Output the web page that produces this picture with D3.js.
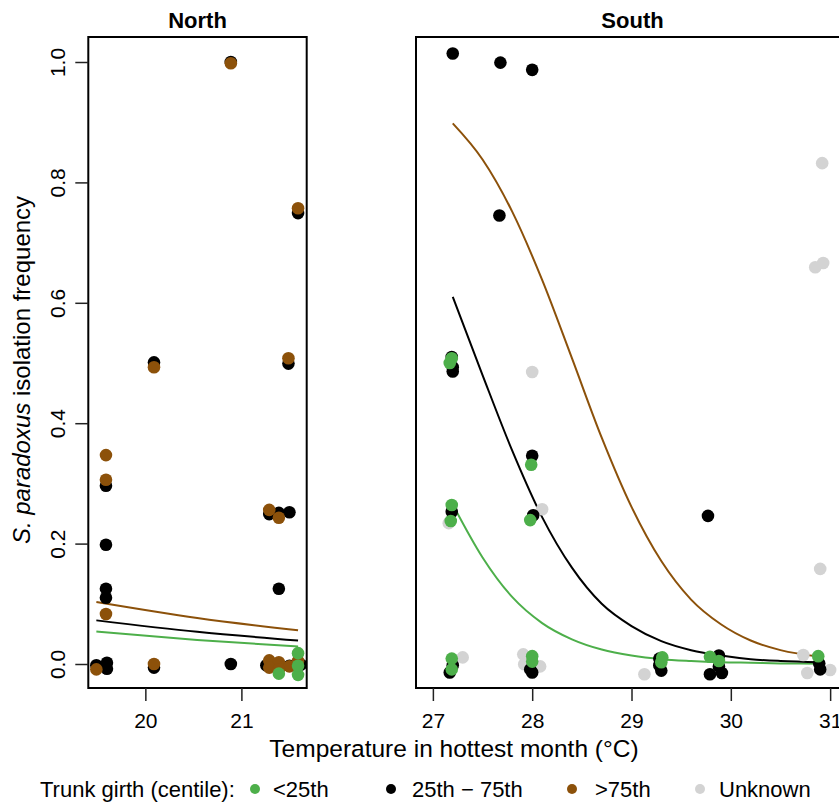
<!DOCTYPE html>
<html>
<head>
<meta charset="utf-8">
<script src="https://cdn.jsdelivr.net/npm/d3@7"></script>
<style>
  body { margin: 0; background: #fff; }
  svg { display: block; font-family: "Liberation Sans", Arial, Helvetica, sans-serif; }
</style>
</head>
<body>
<div id="corpo"></div>
<script>
// ---- data ----
var groups = ["<25th", "25th \u2212 75th", ">75th", "Unknown"];
var groupColors = ["#4daf4a", "#000000", "#8c510a", "#d3d3d3"];

// North: [temperature, isolation frequency]
var northLow = [[21.59,0.018],[21.59,-0.018],[21.39,-0.016],[21.59,-0.003]];
var northMid = [[20.89,1.0],[21.59,0.749],[20.09,0.501],[21.49,0.499],[19.59,0.296],[19.59,0.198],
  [19.59,0.125],[19.59,0.11],[19.60,0.002],[19.49,-0.002],[19.60,-0.008],[20.09,-0.006],[20.89,0.0],
  [21.29,0.249],[21.39,0.251],[21.50,0.252],[21.39,0.125],[21.26,-0.002],[21.50,-0.003],[21.62,-0.001]];
var northHigh = [[20.89,0.998],[21.59,0.757],[20.09,0.493],[21.49,0.508],[19.59,0.347],[19.59,0.306],
  [19.59,0.083],[19.49,-0.009],[20.09,0.0],[21.29,0.256],[21.39,0.243],[21.29,0.006],[21.39,0.003],
  [21.50,-0.004],[21.59,0.005],[21.29,-0.006],[21.39,-0.009]];
var northUnknown = [];

// South
var southLow = [[27.19,0.508],[27.17,0.50],[27.99,0.331],[27.19,0.264],[27.18,0.2375],[27.98,0.239],
  [27.19,0.009],[27.19,-0.009],[28.00,0.013],[28.00,0.004],[29.31,0.011],[29.30,0.003],[29.79,0.012],
  [29.88,0.005],[30.88,0.013]];
var southMid = [[27.20,1.014],[27.68,0.999],[28.00,0.987],[27.67,0.745],[27.19,0.51],[27.20,0.493],
  [27.20,0.486],[28.00,0.346],[27.19,0.253],[28.01,0.247],[29.77,0.246],[27.17,-0.014],[27.20,-0.002],
  [27.98,-0.009],[28.00,-0.014],[29.28,0.009],[29.28,-0.002],[29.30,-0.011],[29.88,0.014],[29.79,-0.017],
  [29.91,-0.015],[29.88,-0.004],[30.89,0.001],[30.90,-0.009]];
var southHigh = [];
var southUnknown = [[30.92,0.832],[30.93,0.666],[30.85,0.659],[28.00,0.485],[27.16,0.234],[28.10,0.257],
  [30.90,0.158],[27.30,0.011],[27.91,0.016],[27.92,-0.0005],[28.08,-0.004],[29.13,-0.017],[30.73,0.015],
  [30.77,-0.015],[31.00,-0.01]];

// fitted curves (read at these temperatures)
var northFitTemp = [19.49, 20.54, 21.59];
var northFitLow  = [0.054, 0.040, 0.029];
var northFitMid  = [0.0725, 0.0535, 0.039];
var northFitHigh = [0.103, 0.0765, 0.056];

var southFitTemp = [27.2, 27.5, 27.8, 28.1, 28.4, 28.7, 29.0, 29.3, 29.6, 29.9, 30.2, 30.5, 30.9];
var southFitLow  = [0.265, 0.177, 0.111, 0.068, 0.041, 0.024, 0.014, 0.008, 0.005, 0.003, 0.002, 0.001, 0.0005];
var southFitMid  = [0.61, 0.48, 0.354, 0.244, 0.16, 0.10, 0.063, 0.038, 0.023, 0.014, 0.008, 0.005, 0.003];
var southFitHigh = [0.898, 0.838, 0.751, 0.638, 0.508, 0.376, 0.261, 0.171, 0.107, 0.066, 0.039, 0.023, 0.012];

var northTicks = [20, 21];
var southTicks = [27, 28, 29, 30, 31];
var yTicks = [0, 0.2, 0.4, 0.6, 0.8, 1.0];

// ---- layout ----
var width = 839, height = 803;
var plotTop = 37, plotBottom = 688;
var svg = d3.select("#corpo").append("svg").attr("width", width).attr("height", height);

var y = d3.scaleLinear().domain([0, 1]).range([664, 62]);
var xN = d3.scaleLinear().domain([19.406, 21.68]).range([88.3, 306.7]);
var xS = d3.scaleLinear().domain([26.83, 31.19]).range([416, 849]);

function panel(id, title, x, ticks, pts, fitT, fits) {
  var x0 = x.range()[0], x1 = x.range()[1];
  var g = svg.append("g").attr("class", "panel-" + id);

  g.append("clipPath").attr("id", "clip-" + id)
    .append("rect").attr("x", x0).attr("y", plotTop).attr("width", x1 - x0).attr("height", plotBottom - plotTop);

  var inner = g.append("g").attr("clip-path", "url(#clip-" + id + ")");

  // fitted lines: low, mid, high
  var line = d3.line()
    .x(function(d) { return x(d[0]); })
    .y(function(d) { return y(d[1]); })
    .curve(d3.curveMonotoneX);
  fits.forEach(function(f, i) {
    inner.append("path")
      .datum(fitT.map(function(t, j) { return [t, f[j]]; }))
      .attr("d", line)
      .attr("fill", "none")
      .attr("stroke", groupColors[i])
      .attr("stroke-width", 2);
  });

  // points: unknown, mid, high, low (drawing order)
  [3, 1, 2, 0].forEach(function(gi) {
    inner.selectAll(null)
      .data(pts[gi]).enter().append("circle")
      .attr("cx", function(d) { return x(d[0]); })
      .attr("cy", function(d) { return y(d[1]); })
      .attr("r", 6.3)
      .attr("fill", groupColors[gi]);
  });

  // frame
  g.append("rect")
    .attr("x", x0).attr("y", plotTop).attr("width", x1 - x0).attr("height", plotBottom - plotTop)
    .attr("fill", "none").attr("stroke", "#000").attr("stroke-width", 2);

  // x axis
  var ax = g.append("g")
    .attr("transform", "translate(0," + plotBottom + ")")
    .call(d3.axisBottom(x).tickValues(ticks).tickSize(13).tickPadding(12).tickFormat(d3.format("d")));
  ax.select(".domain").remove();
  ax.selectAll("line").attr("stroke", "#222").attr("stroke-width", 1.5);
  ax.selectAll("text").attr("font-size", 21).attr("fill", "#000")
    .style("font-family", "'Liberation Sans', Arial, sans-serif");

  // title
  g.append("text")
    .attr("x", (x0 + x1) / 2).attr("y", 28)
    .attr("text-anchor", "middle")
    .attr("font-size", 22).attr("font-weight", "bold")
    .text(title);
}

panel("north", "North", xN, northTicks,
  [northLow, northMid, northHigh, northUnknown], northFitTemp, [northFitLow, northFitMid, northFitHigh]);
panel("south", "South", xS, southTicks,
  [southLow, southMid, southHigh, southUnknown], southFitTemp, [southFitLow, southFitMid, southFitHigh]);

// y axis (north only)
var ay = svg.append("g")
  .attr("transform", "translate(88.3,0)")
  .call(d3.axisLeft(y).tickValues(yTicks).tickSize(13).tickFormat(d3.format(".1f")));
ay.select(".domain").remove();
ay.selectAll("line").attr("stroke", "#222").attr("stroke-width", 1.5);
ay.selectAll("text")
  .attr("transform", "rotate(-90)")
  .attr("x", 0).attr("y", -23).attr("dy", 0)
  .attr("text-anchor", "middle")
  .attr("font-size", 21).attr("fill", "#000")
  .style("font-family", "'Liberation Sans', Arial, sans-serif");

// y label
var yl = svg.append("text")
  .attr("transform", "translate(30,370) rotate(-90)")
  .attr("text-anchor", "middle")
  .attr("font-size", 24);
yl.append("tspan").attr("font-style", "italic").text("S. paradoxus");
yl.append("tspan").text(" isolation frequency");

// x label
svg.append("text")
  .attr("x", 454).attr("y", 757)
  .attr("text-anchor", "middle")
  .attr("font-size", 24.5)
  .text("Temperature in hottest month (\u00B0C)");

// legend
var legY = 797;
svg.append("text").attr("x", 40).attr("y", legY).attr("font-size", 22).text("Trunk girth (centile):");
var legDots = [255, 391, 572, 700];
var legText = [273, 412, 595, 719];
groups.forEach(function(name, i) {
  svg.append("circle").attr("cx", legDots[i]).attr("cy", legY - 8).attr("r", 5).attr("fill", groupColors[i]);
  svg.append("text").attr("x", legText[i]).attr("y", legY).attr("font-size", 22).text(name);
});
</script>
</body>
</html>
